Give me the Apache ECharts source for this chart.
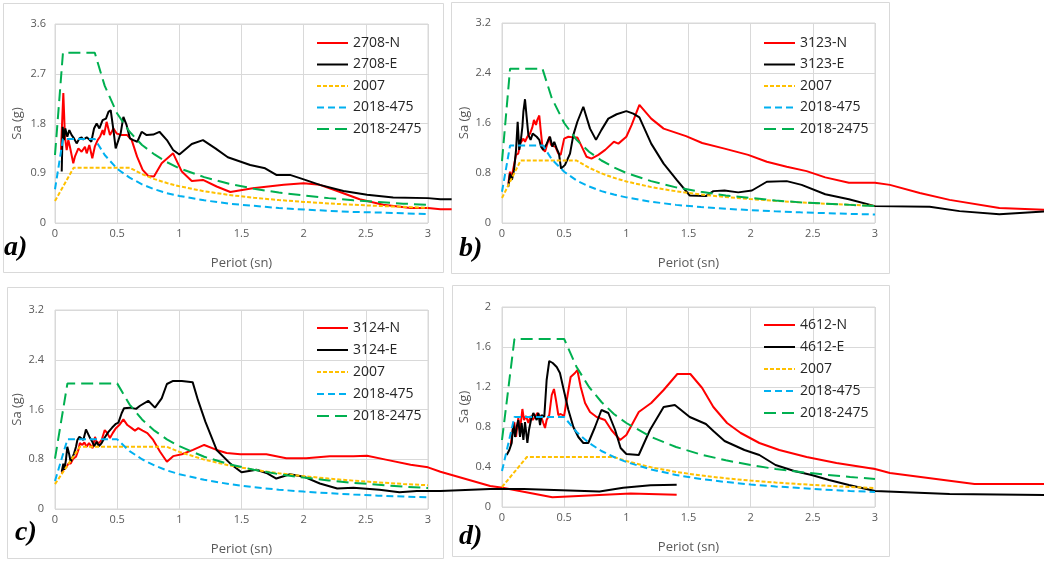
<!DOCTYPE html>
<html>
<head>
<meta charset="utf-8">
<script src="https://cdn.jsdelivr.net/npm/echarts@6/dist/echarts.min.js"></script>
<style>
html, body { margin: 0; padding: 0; background: #fff; }
#chart { width: 1044px; height: 561px; }
</style>
</head>
<body>
<div id="chart"></div>
<script>
// [period (s), Sa (g)] pairs

// a) 2708
var a_N = [[0.048,1.32],[0.067,2.35],[0.08,1.56],[0.094,1.32],[0.107,1.5],[0.12,1.38],[0.147,1.08],[0.16,1.2],[0.188,1.35],[0.214,1.29],[0.241,1.38],[0.255,1.26],[0.276,1.41],[0.3,1.17],[0.32,1.38],[0.343,1.5],[0.362,1.56],[0.383,1.68],[0.394,1.59],[0.415,1.83],[0.43,1.83],[0.442,1.59],[0.47,1.71],[0.496,1.62],[0.536,1.59],[0.58,1.59],[0.617,1.5],[0.66,1.2],[0.705,0.96],[0.75,0.85],[0.796,0.84],[0.858,1.08],[0.95,1.26],[1.02,0.93],[1.1,0.76],[1.19,0.78],[1.3,0.66],[1.41,0.56],[1.59,0.63],[1.84,0.69],[2.0,0.72],[2.13,0.69],[2.27,0.58],[2.45,0.43],[2.64,0.33],[2.86,0.27],[3.0,0.27],[3.1,0.25],[3.19,0.25]];
var a_E = [[0.054,0.93],[0.062,1.74],[0.072,1.5],[0.083,1.71],[0.099,1.56],[0.115,1.68],[0.134,1.59],[0.153,1.53],[0.174,1.44],[0.196,1.53],[0.214,1.55],[0.228,1.51],[0.255,1.55],[0.276,1.51],[0.292,1.47],[0.314,1.71],[0.335,1.8],[0.357,1.71],[0.383,1.86],[0.41,1.89],[0.43,2.01],[0.448,2.04],[0.47,1.68],[0.488,1.35],[0.504,1.32],[0.528,1.62],[0.55,1.92],[0.576,1.77],[0.603,1.53],[0.63,1.5],[0.662,1.47],[0.697,1.65],[0.737,1.59],[0.79,1.6],[0.84,1.65],[0.9,1.5],[0.95,1.32],[1.0,1.24],[1.1,1.43],[1.19,1.5],[1.29,1.35],[1.39,1.19],[1.57,1.05],[1.69,0.99],[1.78,0.87],[1.89,0.87],[2.0,0.79],[2.13,0.69],[2.32,0.58],[2.51,0.51],[2.72,0.46],[3.0,0.45],[3.1,0.43],[3.19,0.43]];
var a_2007 = [[0,0.4],[0.15,1.0],[0.6,1.0],[0.7,0.884],[0.8,0.794],[0.9,0.723],[1.0,0.665],[1.2,0.574],[1.4,0.508],[1.6,0.456],[1.8,0.415],[2.0,0.382],[2.2,0.354],[2.4,0.33],[2.6,0.309],[2.8,0.292],[3.0,0.276]];
var a_475 = [[0,0.61],[0.064,1.52],[0.32,1.52],[0.4,1.23],[0.5,0.98],[0.6,0.82],[0.7,0.7],[0.8,0.61],[0.9,0.54],[1.0,0.49],[1.2,0.41],[1.4,0.35],[1.6,0.31],[1.8,0.27],[2.0,0.245],[2.2,0.22],[2.4,0.2],[2.6,0.19],[2.8,0.175],[3.0,0.163]];
var a_2475 = [[0,1.23],[0.064,3.08],[0.32,3.08],[0.4,2.48],[0.5,1.98],[0.6,1.65],[0.7,1.41],[0.8,1.24],[0.9,1.1],[1.0,0.99],[1.2,0.83],[1.4,0.71],[1.6,0.62],[1.8,0.55],[2.0,0.5],[2.2,0.45],[2.4,0.41],[2.6,0.38],[2.8,0.35],[3.0,0.33]];

// b) 3123
var b_N = [[0.051,0.63],[0.064,0.82],[0.078,0.74],[0.097,0.93],[0.113,1.09],[0.131,1.11],[0.145,1.27],[0.158,1.3],[0.172,1.35],[0.185,1.3],[0.204,1.38],[0.225,1.43],[0.244,1.53],[0.257,1.65],[0.273,1.57],[0.284,1.65],[0.3,1.72],[0.311,1.49],[0.327,1.19],[0.346,1.14],[0.365,1.27],[0.38,1.38],[0.394,1.25],[0.413,1.23],[0.43,1.22],[0.453,1.11],[0.472,1.09],[0.5,1.35],[0.534,1.38],[0.574,1.37],[0.606,1.37],[0.649,1.19],[0.68,1.06],[0.72,1.03],[0.775,1.09],[0.83,1.17],[0.9,1.3],[0.936,1.27],[1.0,1.38],[1.043,1.57],[1.105,1.89],[1.2,1.67],[1.3,1.51],[1.48,1.39],[1.61,1.28],[1.79,1.19],[1.98,1.09],[2.13,0.98],[2.29,0.9],[2.45,0.83],[2.6,0.73],[2.79,0.645],[3.0,0.645],[3.12,0.61],[3.36,0.48],[3.6,0.37],[4.0,0.24],[4.4,0.21]];
var b_E = [[0.051,0.58],[0.064,0.79],[0.08,0.69],[0.097,0.85],[0.113,1.17],[0.126,1.62],[0.139,1.17],[0.153,1.35],[0.164,1.54],[0.172,1.78],[0.185,1.98],[0.198,1.7],[0.212,1.41],[0.23,1.33],[0.247,1.43],[0.26,1.46],[0.279,1.38],[0.3,1.33],[0.314,1.22],[0.332,1.17],[0.346,1.22],[0.36,1.27],[0.373,1.33],[0.386,1.38],[0.405,1.22],[0.42,1.3],[0.44,1.19],[0.458,1.11],[0.475,0.87],[0.488,0.87],[0.507,0.93],[0.547,1.11],[0.574,1.41],[0.606,1.62],[0.654,1.86],[0.708,1.51],[0.756,1.33],[0.8,1.49],[0.855,1.67],[0.922,1.74],[1.0,1.79],[1.056,1.75],[1.105,1.69],[1.2,1.27],[1.3,0.95],[1.405,0.69],[1.51,0.44],[1.64,0.43],[1.7,0.51],[1.79,0.52],[1.9,0.49],[2.01,0.52],[2.13,0.66],[2.29,0.67],[2.41,0.61],[2.6,0.46],[2.79,0.38],[3.0,0.27],[3.44,0.26],[3.68,0.19],[4.0,0.14],[4.4,0.19]];
var b_2007 = [[0,0.4],[0.15,1.0],[0.6,1.0],[0.7,0.884],[0.8,0.794],[0.9,0.723],[1.0,0.665],[1.2,0.574],[1.4,0.508],[1.6,0.456],[1.8,0.415],[2.0,0.382],[2.2,0.354],[2.4,0.33],[2.6,0.309],[2.8,0.292],[3.0,0.276]];
var b_475 = [[0,0.5],[0.065,1.24],[0.33,1.24],[0.4,1.02],[0.5,0.82],[0.6,0.68],[0.7,0.585],[0.8,0.51],[0.9,0.455],[1.0,0.41],[1.2,0.34],[1.4,0.29],[1.6,0.256],[1.8,0.228],[2.0,0.205],[2.2,0.186],[2.4,0.171],[2.6,0.158],[2.8,0.146],[3.0,0.137]];
var b_2475 = [[0,0.99],[0.065,2.47],[0.325,2.47],[0.4,2.0],[0.5,1.6],[0.6,1.33],[0.7,1.14],[0.8,1.0],[0.9,0.89],[1.0,0.8],[1.2,0.67],[1.4,0.57],[1.6,0.5],[1.8,0.44],[2.0,0.4],[2.2,0.36],[2.4,0.33],[2.6,0.31],[2.8,0.29],[3.0,0.27]];

// c) 3124
var c_N = [[0.054,0.57],[0.067,0.63],[0.08,0.6],[0.094,0.68],[0.107,0.73],[0.126,0.73],[0.147,0.81],[0.169,0.84],[0.188,0.95],[0.2,1.06],[0.22,1.03],[0.236,1.07],[0.255,1.0],[0.273,1.06],[0.287,1.03],[0.303,0.98],[0.322,1.16],[0.335,1.08],[0.354,1.06],[0.375,1.11],[0.4,1.27],[0.42,1.22],[0.442,1.14],[0.464,1.22],[0.49,1.3],[0.517,1.35],[0.55,1.44],[0.582,1.35],[0.617,1.3],[0.643,1.26],[0.67,1.3],[0.705,1.26],[0.743,1.22],[0.79,1.11],[0.845,0.92],[0.9,0.76],[0.95,0.85],[1.02,0.88],[1.11,0.95],[1.2,1.03],[1.3,0.95],[1.38,0.9],[1.49,0.88],[1.7,0.88],[1.86,0.815],[2.02,0.815],[2.21,0.85],[2.4,0.85],[2.51,0.855],[2.67,0.79],[2.86,0.71],[3.0,0.67],[3.1,0.6],[3.5,0.37],[3.6,0.34],[4.0,0.19],[4.63,0.25],[5.0,0.23]];
var c_E = [[0.054,0.6],[0.067,0.73],[0.075,0.63],[0.088,0.79],[0.099,1.0],[0.113,0.89],[0.126,0.76],[0.139,0.73],[0.153,0.89],[0.169,1.0],[0.18,1.11],[0.196,1.16],[0.209,1.14],[0.228,1.11],[0.249,1.28],[0.263,1.27],[0.282,1.14],[0.3,1.08],[0.316,1.01],[0.335,1.08],[0.354,1.01],[0.375,1.06],[0.4,1.15],[0.43,1.24],[0.46,1.31],[0.49,1.37],[0.51,1.39],[0.536,1.54],[0.555,1.62],[0.603,1.63],[0.652,1.61],[0.684,1.66],[0.75,1.74],[0.804,1.63],[0.858,1.78],[0.9,2.01],[0.95,2.06],[1.02,2.06],[1.107,2.04],[1.15,1.75],[1.21,1.4],[1.3,0.95],[1.41,0.73],[1.5,0.59],[1.62,0.63],[1.7,0.58],[1.78,0.49],[1.89,0.56],[2.0,0.52],[2.13,0.41],[2.27,0.33],[2.4,0.34],[2.61,0.31],[2.77,0.27],[2.91,0.29],[3.1,0.29],[3.5,0.32],[3.77,0.32],[4.38,0.28],[4.57,0.34],[4.79,0.38],[5.0,0.39]];
var c_2007 = [[0,0.4],[0.2,1.0],[0.9,1.0],[1.0,0.919],[1.2,0.794],[1.4,0.702],[1.6,0.631],[1.8,0.574],[2.0,0.528],[2.2,0.489],[2.4,0.456],[2.6,0.428],[2.8,0.403],[3.0,0.382]];
var c_475 = [[0,0.45],[0.1,1.12],[0.5,1.12],[0.6,0.93],[0.7,0.8],[0.8,0.7],[0.9,0.62],[1.0,0.56],[1.2,0.47],[1.4,0.4],[1.6,0.35],[1.8,0.31],[2.0,0.28],[2.2,0.255],[2.4,0.233],[2.6,0.215],[2.8,0.2],[3.0,0.187]];
var c_2475 = [[0,0.81],[0.1,2.02],[0.5,2.02],[0.6,1.68],[0.7,1.44],[0.8,1.26],[0.9,1.12],[1.0,1.01],[1.2,0.84],[1.4,0.72],[1.6,0.63],[1.8,0.56],[2.0,0.505],[2.2,0.46],[2.4,0.42],[2.6,0.39],[2.8,0.36],[3.0,0.337]];

// d) 4612
var d_N = [[0.07,0.62],[0.086,0.77],[0.099,0.85],[0.113,0.7],[0.131,0.89],[0.145,0.77],[0.164,0.98],[0.177,0.87],[0.193,0.91],[0.212,0.84],[0.23,0.91],[0.247,0.87],[0.265,0.9],[0.284,0.94],[0.3,0.95],[0.319,0.89],[0.332,0.84],[0.346,0.79],[0.359,0.87],[0.38,0.92],[0.4,1.12],[0.418,1.18],[0.434,1.07],[0.453,0.92],[0.472,0.93],[0.499,0.91],[0.525,1.1],[0.552,1.3],[0.587,1.34],[0.606,1.37],[0.633,1.2],[0.668,1.04],[0.708,0.95],[0.761,0.9],[0.828,0.87],[0.88,0.77],[0.95,0.67],[1.0,0.72],[1.1,0.95],[1.2,1.04],[1.3,1.17],[1.41,1.33],[1.515,1.33],[1.61,1.19],[1.7,1.0],[1.81,0.84],[1.92,0.74],[2.07,0.64],[2.23,0.57],[2.45,0.5],[2.69,0.44],[3.0,0.38],[3.12,0.34],[3.8,0.23],[4.4,0.23]];
var d_E = [[0.038,0.52],[0.059,0.57],[0.078,0.64],[0.091,0.84],[0.105,0.7],[0.118,0.8],[0.131,0.87],[0.145,0.7],[0.158,0.84],[0.172,0.67],[0.185,0.85],[0.204,0.64],[0.217,0.77],[0.233,0.87],[0.252,0.94],[0.265,0.95],[0.279,0.87],[0.292,0.94],[0.306,0.82],[0.319,0.92],[0.34,0.9],[0.359,1.27],[0.38,1.46],[0.408,1.44],[0.44,1.4],[0.466,1.34],[0.493,1.19],[0.534,0.97],[0.574,0.8],[0.614,0.7],[0.654,0.64],[0.694,0.64],[0.748,0.8],[0.8,0.97],[0.855,0.94],[0.91,0.77],[0.954,0.59],[1.0,0.53],[1.1,0.52],[1.19,0.77],[1.3,1.0],[1.39,1.02],[1.51,0.9],[1.64,0.83],[1.7,0.76],[1.79,0.66],[1.95,0.57],[2.07,0.52],[2.2,0.42],[2.35,0.36],[2.49,0.32],[2.63,0.27],[2.79,0.22],[3.0,0.16],[3.6,0.13],[4.4,0.12]];
var d_2007 = [[0,0.2],[0.2,0.5],[0.9,0.5],[1.0,0.46],[1.2,0.397],[1.4,0.351],[1.6,0.315],[1.8,0.287],[2.0,0.264],[2.2,0.245],[2.4,0.228],[2.6,0.214],[2.8,0.2],[3.0,0.19]];
var d_475 = [[0,0.36],[0.1,0.9],[0.5,0.9],[0.6,0.75],[0.7,0.64],[0.8,0.56],[0.9,0.5],[1.0,0.45],[1.2,0.375],[1.4,0.32],[1.6,0.28],[1.8,0.25],[2.0,0.225],[2.2,0.205],[2.4,0.19],[2.6,0.173],[2.8,0.16],[3.0,0.15]];
var d_2475 = [[0,0.67],[0.1,1.68],[0.5,1.68],[0.6,1.4],[0.7,1.2],[0.8,1.05],[0.9,0.93],[1.0,0.84],[1.2,0.7],[1.4,0.6],[1.6,0.525],[1.8,0.467],[2.0,0.42],[2.2,0.38],[2.4,0.35],[2.6,0.323],[2.8,0.3],[3.0,0.28]];

var codeNames = ['2007', '2018-475', '2018-2475'];

// wide: x-range of the hidden grid the recorded spectra are drawn in (they spill out of the frames)
var panels = [
  { tag: 'a)', names: ['2708-N', '2708-E'], rec: [a_N, a_E], code: [a_2007, a_475, a_2475], yMax: 3.6, yStep: 0.9, wide: 5.2,
    grid: { left: 55, top: 24, width: 373, height: 199 }, box: [3, 3, 440, 269], leg: [316, 36, 7.5], lab: [4, 248], ylm: 9 },
  { tag: 'b)', names: ['3123-N', '3123-E'], rec: [b_N, b_E], code: [b_2007, b_475, b_2475], yMax: 3.2, yStep: 0.8, wide: 4.35,
    grid: { left: 502, top: 23, width: 373, height: 200 }, box: [451, 2, 438, 271], leg: [763, 36, 7.5], lab: [459, 249], ylm: 11 },
  { tag: 'c)', names: ['3124-N', '3124-E'], rec: [c_N, c_E], code: [c_2007, c_475, c_2475], yMax: 3.2, yStep: 0.8, wide: 5.2,
    grid: { left: 55, top: 310, width: 373, height: 199 }, box: [7, 287, 436, 271], leg: [316, 321, 8], lab: [15, 533], ylm: 11 },
  { tag: 'd)', names: ['4612-N', '4612-E'], rec: [d_N, d_E], code: [d_2007, d_475, d_2475], yMax: 2, yStep: 0.4, wide: 4.35,
    grid: { left: 502, top: 307, width: 373, height: 200 }, box: [452, 285, 437, 271], leg: [763, 318, 8], lab: [459, 537], ylm: 11 }
];

var recColors = ['#ff0000', '#000000'];
var codeColors = ['#ffc000', '#00b0f0', '#00b050'];
var codeDash = [[4, 2], [7, 4], [12, 6]];
var font = 'Open Sans';

var grids = [], xAxes = [], yAxes = [], legends = [], series = [], elements = [];
var n = panels.length;

panels.forEach(function (p, i) {
  grids.push({ left: p.grid.left, top: p.grid.top, width: p.grid.width, height: p.grid.height,
    show: true, borderColor: '#d9d9d9', borderWidth: 1 });
  xAxes.push({
    type: 'value', gridIndex: i, min: 0, max: 3, interval: 0.5,
    name: 'Periot (sn)', nameLocation: 'middle', nameGap: 34,
    nameTextStyle: { fontSize: 13, color: '#595959', fontFamily: font },
    axisLine: { show: false }, axisTick: { show: false },
    axisLabel: { fontSize: 11, color: '#595959', margin: 5, fontFamily: font },
    splitLine: { lineStyle: { color: '#d9d9d9' } }
  });
  yAxes.push({
    type: 'value', gridIndex: i, min: 0, max: p.yMax, interval: p.yStep,
    name: 'Sa (g)', nameLocation: 'middle', nameGap: 31,
    nameTextStyle: { fontSize: 13, color: '#595959', fontFamily: font },
    axisLine: { show: false }, axisTick: { show: false },
    axisLabel: { fontSize: 11, color: '#595959', margin: p.ylm, fontFamily: font,
      formatter: function (v) { return String(Math.round(v * 10) / 10); } },
    splitLine: { lineStyle: { color: '#d9d9d9' } }
  });
  legends.push({
    orient: 'vertical', left: p.leg[0], top: p.leg[1], itemGap: p.leg[2], padding: 0,
    itemWidth: 31, itemHeight: 14, selectedMode: false, data: p.names.concat(codeNames),
    itemStyle: { opacity: 0 },
    textStyle: { fontSize: 14, color: '#262626', fontFamily: font }
  });
  p.code.forEach(function (d, k) {
    series.push({
      name: codeNames[k], type: 'line', xAxisIndex: i, yAxisIndex: i, data: d,
      symbol: 'none', showSymbol: false, z: 4,
      itemStyle: { color: codeColors[k] },
      lineStyle: { color: codeColors[k], width: 2, type: codeDash[k] }
    });
  });
  elements.push({
    type: 'rect', silent: true, z: 0,
    shape: { x: p.box[0] + 0.5, y: p.box[1] + 0.5, width: p.box[2], height: p.box[3] },
    style: { fill: 'none', stroke: '#d9d9d9', lineWidth: 1 }
  });
  elements.push({
    type: 'text', silent: true, z: 5,
    style: { text: p.tag, x: p.lab[0], y: p.lab[1], fill: '#000',
      font: 'italic bold 28px "Liberation Serif"',
      align: 'left', verticalAlign: 'middle', textAlign: 'left', textVerticalAlign: 'middle' }
  });
});

// hidden, wider copies of each grid (same px per second) for the recorded spectra
panels.forEach(function (p, i) {
  var g = n + i;
  grids.push({ left: p.grid.left, top: p.grid.top, height: p.grid.height,
    width: p.grid.width * p.wide / 3, show: false });
  xAxes.push({ type: 'value', gridIndex: g, min: 0, max: p.wide, show: false, splitLine: { show: false } });
  yAxes.push({ type: 'value', gridIndex: g, min: 0, max: p.yMax, show: false, splitLine: { show: false } });
  p.rec.forEach(function (d, k) {
    series.push({
      name: p.names[k], type: 'line', xAxisIndex: g, yAxisIndex: g, data: d,
      symbol: 'none', showSymbol: false, z: 3,
      itemStyle: { color: recColors[k] },
      lineStyle: { color: recColors[k], width: 2 }
    });
  });
});

var chart = echarts.init(document.getElementById('chart'));
chart.setOption({
  animation: false,
  backgroundColor: '#ffffff',
  grid: grids,
  xAxis: xAxes,
  yAxis: yAxes,
  legend: legends,
  series: series,
  graphic: { elements: elements }
});
</script>
</body>
</html>
